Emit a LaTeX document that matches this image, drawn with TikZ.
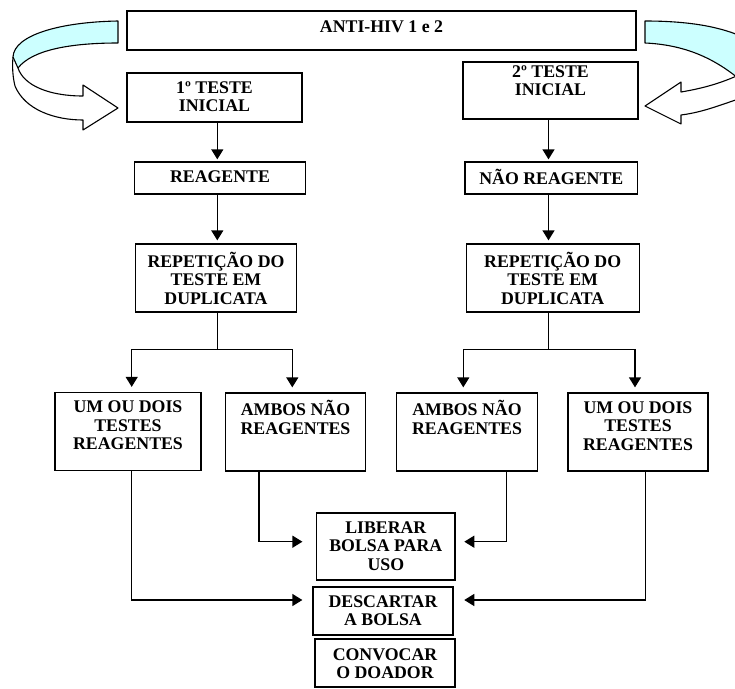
\documentclass[tikz,border=0pt]{standalone}
\usepackage{fontspec}
\setmainfont{Liberation Serif}
\usetikzlibrary{arrows.meta,calc}
\definecolor{ribbon}{RGB}{204,255,255}
\tikzset{
  box/.style={draw, line width=1.3pt, inner sep=0pt},
  txt/.style={font=\bfseries\fontsize{17.8}{18.3}\selectfont, align=center, inner sep=0pt, anchor=north},
  arr/.style={line width=1.3pt, -{Triangle[length=10pt,width=12pt]}},
  rib/.style={line width=1.1pt, line join=round}
}
\newcommand{\ribbonpath}{(118,21) .. controls (60,22) and (14,35) .. (13,57)
  .. controls (12,68) and (13,78) .. (15,86)
  .. controls (25,110) and (55,120) .. (83,120)
  -- (83,130) -- (118,108) -- (83,85) -- (83,96)
  .. controls (50,96) and (24,86) .. (18,68)
  .. controls (32,50) and (70,43) .. (118,43) -- cycle}
\newcommand{\ribboncyan}{(118,21) .. controls (60,22) and (14,35) .. (13,57)
  -- (18,68) .. controls (32,50) and (70,43) .. (118,43) -- cycle}
\newcommand{\rribboncyan}{(645,21) .. controls (690,21) and (722,27) .. (745,38)
  -- (745,84) .. controls (720,62) and (690,45) .. (645,43) -- cycle}
\newcommand{\rribbonfront}{(681,92) .. controls (705,88) and (725,82) .. (745,72)
  -- (745,97) .. controls (725,103) and (705,112) .. (681,115)
  -- (681,124) -- (645,106) -- (681,82) -- cycle}
\begin{document}
\begin{tikzpicture}[x=1pt,y=-1pt]
\useasboundingbox (0,0) rectangle (735,688);
\fill[white] (0,0) rectangle (735,688);

% curved ribbon arrows
\fill[white] \ribbonpath;
\fill[ribbon] \ribboncyan;
\draw[rib] \ribbonpath;
\draw[rib] (13,57) -- (18,68);
\begin{scope}
  \clip (0,0) rectangle (735,688);
  \filldraw[rib, fill=ribbon] \rribboncyan;
  \filldraw[rib, fill=white] \rribbonfront;
\end{scope}

% boxes
\node[box, minimum width=509pt, minimum height=39pt] (anti) at (381.5,30.5) {};
\node[txt] (antit) at ([yshift=-8.9pt]anti.north) {\rule{0pt}{13pt}ANTI-HIV 1 e 2};

\node[box, minimum width=175pt, minimum height=49pt] (t1) at (214.5,97.5) {};
\node[txt] (t1t) at ([yshift=-7.6pt]t1.north) {\rule{0pt}{13pt}1º TESTE\\INICIAL};

\node[box, minimum width=175pt, minimum height=57pt] (t2) at (550.5,90.5) {};
\node[txt] (t2t) at ([yshift=-2.9pt]t2.north) {\rule{0pt}{13pt}2º TESTE\\INICIAL};

\node[box, minimum width=171pt, minimum height=32pt] (r1) at (220,178) {};
\node[txt] (r1t) at ([yshift=-7.6pt]r1.north) {\rule{0pt}{13pt}REAGENTE};

\node[box, minimum width=172.6pt, minimum height=32pt] (r2) at (551.3,178) {};
\node[txt] (r2t) at ([yshift=-7.6pt]r2.north) {\rule{0pt}{13pt}NÃO REAGENTE};

\node[box, minimum width=161pt, minimum height=68pt] (d1) at (216,278) {};
\node[txt] (d1t) at ([yshift=-8.6pt]d1.north) {\rule{0pt}{13pt}REPETIÇÃO DO\\TESTE EM\\DUPLICATA};

\node[box, minimum width=173pt, minimum height=68pt] (d2) at (552.7,278) {};
\node[txt] (d2t) at ([yshift=-8.6pt]d2.north) {\rule{0pt}{13pt}REPETIÇÃO DO\\TESTE EM\\DUPLICATA};

\node[box, minimum width=146pt, minimum height=78pt] (u1) at (128,431.5) {};
\node[txt] (u1t) at ([yshift=-7.9pt]u1.north) {\rule{0pt}{13pt}UM OU DOIS\\TESTES\\REAGENTES};

\node[box, minimum width=140.5pt, minimum height=78pt] (a1) at (295.5,432) {};
\node[txt] (a1t) at ([yshift=-7.9pt]a1.north) {\rule{0pt}{13pt}AMBOS NÃO\\REAGENTES};

\node[box, minimum width=140.5pt, minimum height=78pt] (a2) at (467,432) {};
\node[txt] (a2t) at ([yshift=-7.9pt]a2.north) {\rule{0pt}{13pt}AMBOS NÃO\\REAGENTES};

\node[box, minimum width=140pt, minimum height=78pt] (u2) at (638,432) {};
\node[txt] (u2t) at ([yshift=-7.9pt]u2.north) {\rule{0pt}{13pt}UM OU DOIS\\TESTES\\REAGENTES};

\node[box, minimum width=138.5pt, minimum height=67pt] (lib) at (385.8,546.5) {};
\node[txt] (libt) at ([yshift=-7.9pt]lib.north) {\rule{0pt}{13pt}LIBERAR\\BOLSA PARA\\USO};

\node[box, minimum width=140pt, minimum height=48pt] (desc) at (383,611) {};
\node[txt] (desct) at ([yshift=-7.9pt]desc.north) {\rule{0pt}{13pt}DESCARTAR\\A BOLSA};

\node[box, minimum width=140pt, minimum height=48pt] (conv) at (385,663) {};
\node[txt] (convt) at ([yshift=-8.6pt]conv.north) {\rule{0pt}{13pt}CONVOCAR\\O DOADOR};

% guide coordinates
\coordinate (xL) at (217.3,0);
\coordinate (xR) at (548.5,0);
\coordinate (ys) at (0,349.3);
\coordinate (xu1) at (131.7,0);
\coordinate (xa1) at (292.3,0);
\coordinate (xa2) at (463.3,0);
\coordinate (xu2) at (635,0);
\coordinate (xb1) at (131.5,0);
\coordinate (xb2) at (259,0);
\coordinate (xb3) at (506.4,0);
\coordinate (xb4) at (645.6,0);
\coordinate (yl) at (0,541.7);
\coordinate (yd) at (0,600);

% connectors
\draw[arr, shorten >=2pt] (t1.south -| xL) -- (r1.north -| xL);
\draw[arr, shorten >=3pt] (r1.south -| xL) -- (d1.north -| xL);
\draw[arr, shorten >=2pt] (t2.south -| xR) -- (r2.north -| xR);
\draw[arr, shorten >=3pt] (r2.south -| xR) -- (d2.north -| xR);

\draw[arr, shorten >=5pt] (d1.south -| xL) |- (xu1 |- ys) -- (u1.north -| xu1);
\draw[arr, shorten >=5pt] (d1.south -| xL) |- (xa1 |- ys) -- (a1.north -| xa1);
\draw[arr, shorten >=5pt] (d2.south -| xR) |- (xa2 |- ys) -- (a2.north -| xa2);
\draw[arr, shorten >=5pt] (d2.south -| xR) |- (xu2 |- ys) -- (u2.north -| xu2);

\draw[arr, shorten >=13.5pt] (a1.south -| xb2) |- (lib.west |- yl);
\draw[arr, shorten >=8.6pt] (a2.south -| xb3) |- (lib.east |- yl);
\draw[arr, shorten >=10pt] (u1.south -| xb1) |- (desc.west |- yd);
\draw[arr, shorten >=10.6pt] (u2.south -| xb4) |- (desc.east |- yd);
\end{tikzpicture}
\end{document}
